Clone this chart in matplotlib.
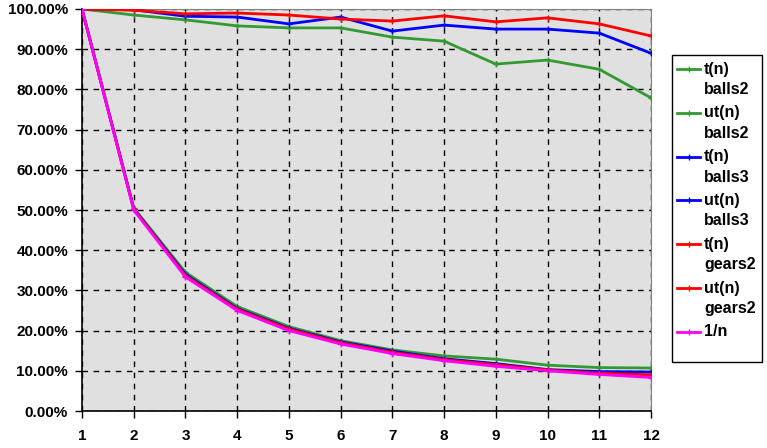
import matplotlib.pyplot as plt
import numpy as np
from matplotlib.ticker import FuncFormatter
from matplotlib.lines import Line2D
from matplotlib.patches import Rectangle

# Data (percent)
n = [1, 2, 3, 4, 5, 6, 7, 8, 9, 10, 11, 12]

t_balls2 = [100, 98.5, 97.3, 95.8, 95.3, 95.3, 93.0, 92.0, 86.3, 87.3, 85.0, 77.9]
ut_balls2 = [100, 50.5, 34.5, 26.0, 21.0, 17.5, 15.2, 13.7, 12.9, 11.4, 10.8, 10.7]
t_balls3 = [100, 99.8, 98.2, 98.0, 96.3, 98.0, 94.5, 96.0, 95.0, 95.0, 94.0, 89.0]
ut_balls3 = [100, 50.3, 34.0, 25.5, 20.6, 17.2, 14.9, 13.0, 11.8, 10.3, 9.8, 9.7]
t_gears2 = [100, 99.7, 98.8, 99.0, 98.5, 97.5, 97.0, 98.3, 96.8, 97.8, 96.3, 93.3]
ut_gears2 = [100, 50.2, 33.7, 25.3, 20.4, 17.0, 14.6, 12.8, 11.5, 10.2, 9.4, 9.0]
inv_n = [100.0 / k for k in n]

series = [
    ("t(n)\nballs2", t_balls2, "#339933"),
    ("ut(n)\nballs2", ut_balls2, "#339933"),
    ("t(n)\nballs3", t_balls3, "#0000ff"),
    ("ut(n)\nballs3", ut_balls3, "#0000ff"),
    ("t(n)\ngears2", t_gears2, "#ff0000"),
    ("ut(n)\ngears2", ut_gears2, "#ff0000"),
    ("1/n", inv_n, "#ff00ff"),
]

plt.rcParams['font.family'] = ['Liberation Sans', 'DejaVu Sans']
plt.rcParams['font.weight'] = 'bold'

W, H = 767, 448
fig = plt.figure(figsize=(W / 100, H / 100), dpi=100)
ax = fig.add_axes([82 / W, 1 - 411 / H, 569 / W, 402 / H])
ax.set_facecolor('#e0e0e0')

for label, vals, col in series:
    ax.plot(n, vals, color=col, linewidth=2, marker='+', markersize=4,
            markeredgewidth=1, zorder=3)

ax.set_xlim(1, 12)
ax.set_ylim(0, 100)
ax.set_xticks(n)
ax.set_yticks(np.arange(0, 101, 10))
ax.yaxis.set_major_formatter(FuncFormatter(lambda v, p: "%.2f%%" % v))
ax.grid(True, color='black', linestyle=(0, (4, 4)), linewidth=1)
ax.set_axisbelow(True)

for s in ['top', 'right']:
    ax.spines[s].set_color('#808080')
for s in ['left', 'bottom']:
    ax.spines[s].set_color('black')
    ax.spines[s].set_linewidth(1.2)

ax.tick_params(axis='both', direction='out', length=5, width=1, labelsize=11)
ax.tick_params(axis='x', pad=8)
ax.tick_params(axis='y', pad=5)
for lbl in ax.get_xticklabels() + ax.get_yticklabels():
    lbl.set_fontweight('bold')

# Legend drawn by hand so the handle sits on the first text line
fig.patches.append(Rectangle((672 / W, 1 - 362 / H), 90 / W, 307 / H,
                             transform=fig.transFigure, facecolor='white',
                             edgecolor='black', linewidth=1, zorder=1))
for i, (label, vals, col) in enumerate(series):
    yc = 69 + 43.8 * i
    fy = 1 - yc / H
    fig.lines.append(Line2D([677 / W, 700 / W], [fy, fy], color=col, linewidth=2,
                            transform=fig.transFigure, zorder=2))
    fig.lines.append(Line2D([688.5 / W], [fy], color=col, marker='+', markersize=4,
                            markeredgewidth=1, transform=fig.transFigure, zorder=2))
    for j, part in enumerate(label.split("\n")):
        fig.text(704 / W, 1 - (yc + 20.5 * j) / H, part, fontsize=11.5,
                 fontweight='bold', va='center', ha='left', zorder=3)

fig.savefig('out.png', dpi=100)
